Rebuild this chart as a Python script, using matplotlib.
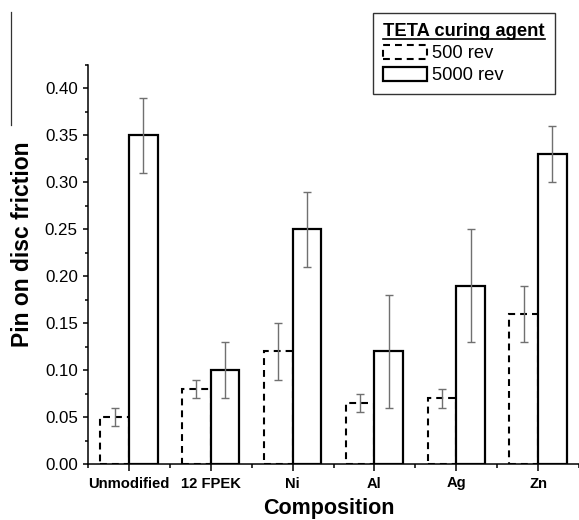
import numpy as np
import matplotlib
matplotlib.use('Agg')
import matplotlib.pyplot as plt
from matplotlib.patches import Patch
from matplotlib.lines import Line2D
from matplotlib.ticker import MultipleLocator

# values
compositions = ['Unmodified', '12 FPEK', 'Ni', 'Al', 'Ag', 'Zn']
friction_500 = [0.05, 0.08, 0.12, 0.065, 0.07, 0.16]
err_500 = [0.01, 0.01, 0.03, 0.01, 0.01, 0.03]
friction_5000 = [0.35, 0.10, 0.25, 0.12, 0.19, 0.33]
err_5000 = [0.04, 0.03, 0.04, 0.06, 0.06, 0.03]
series_labels = ['500 rev', '5000 rev']
legend_title = 'TETA curing agent'


def make_plot():
    plt.rcParams['font.family'] = ['Liberation Sans', 'DejaVu Sans']

    fig = plt.figure(figsize=(5.79, 5.2), dpi=100)
    ax = fig.add_axes([88 / 579, 1 - 464 / 520, 491 / 579, 399 / 520])

    x = np.arange(len(compositions))
    width = 0.35
    err_color = '#707070'

    # 500 rev: dashed outline, 5000 rev: solid outline
    ax.bar(x - width / 2, friction_500, width, facecolor='none', edgecolor='black',
           linewidth=1.5, linestyle=(0, (3.3, 2.4)), zorder=2)
    ax.bar(x + width / 2, friction_5000, width, facecolor='white', edgecolor='black',
           linewidth=1.6, zorder=3)

    ax.errorbar(x - width / 2, friction_500, yerr=err_500, fmt='none', ecolor=err_color,
                elinewidth=1.0, capsize=2.6, capthick=1.0, zorder=4)
    ax.errorbar(x + width / 2, friction_5000, yerr=err_5000, fmt='none', ecolor=err_color,
                elinewidth=1.0, capsize=2.6, capthick=1.0, zorder=4)

    ax.set_xlim(-0.5, len(compositions) - 0.5)
    ax.set_ylim(0, 0.425)
    ax.set_xticks(x)
    ax.set_xticklabels(compositions, fontsize=10.6, fontweight='bold')
    ax.xaxis.set_minor_locator(MultipleLocator(0.5))
    ax.set_yticks(np.arange(0, 0.41, 0.05))
    ax.set_yticklabels([f'{v:.2f}' for v in np.arange(0, 0.41, 0.05)], fontsize=12.2)
    ax.yaxis.set_minor_locator(MultipleLocator(0.025))

    ax.tick_params(axis='x', which='major', direction='out', length=5, width=1.1, pad=4)
    ax.tick_params(axis='x', which='minor', direction='out', length=3, width=1.1)
    ax.tick_params(axis='y', which='major', direction='out', length=3.8, width=1.1, pad=3.5)
    ax.tick_params(axis='y', which='minor', direction='out', length=2.5, width=1.1)

    for side in ['top', 'right']:
        ax.spines[side].set_visible(False)
    for side in ['left', 'bottom']:
        ax.spines[side].set_linewidth(1.1)

    ax.set_xlabel('Composition', fontsize=15.5, fontweight='bold')
    ax.xaxis.set_label_coords(0.491, -0.085)
    ax.set_ylabel('Pin on disc friction', fontsize=16.5, fontweight='bold')
    ax.yaxis.set_label_coords(-0.11, 0.55)

    handles = [
        Patch(facecolor='none', edgecolor='black', linewidth=1.5, linestyle=(0, (3.3, 2.4))),
        Patch(facecolor='white', edgecolor='black', linewidth=1.6),
    ]
    leg = ax.legend(handles, series_labels, title=legend_title, loc='upper right',
                    bbox_to_anchor=(555 / 579, 1 - 13 / 520), bbox_transform=fig.transFigure,
                    borderaxespad=0, fontsize=13.2, title_fontproperties={'weight': 'bold', 'size': 13.2},
                    fancybox=False, edgecolor='#333333', framealpha=1,
                    handlelength=2.4, handleheight=0.8, handletextpad=0.25,
                    labelspacing=0.25, borderpad=0.55, alignment='left')
    leg.get_frame().set_linewidth(1.0)

    # underline the legend title
    fig.canvas.draw()
    renderer = fig.canvas.get_renderer()
    bb = leg.get_title().get_window_extent(renderer)
    inv = fig.transFigure.inverted()
    (x0, y0), (x1, _) = inv.transform([(bb.x0, bb.y0 + 1.5), (bb.x1, bb.y0 + 1.5)])
    fig.add_artist(Line2D([x0, x1], [y0, y0], transform=fig.transFigure,
                          color='black', linewidth=1.2))

    # thin frame line at the left edge of the scanned figure
    fig.add_artist(Line2D([11 / 579, 11 / 579], [1 - 12 / 520, 1 - 125 / 520],
                          transform=fig.transFigure, color='#333333', linewidth=0.9))

    fig.savefig('out.png', dpi=100)
    plt.close(fig)


if __name__ == '__main__':
    make_plot()
